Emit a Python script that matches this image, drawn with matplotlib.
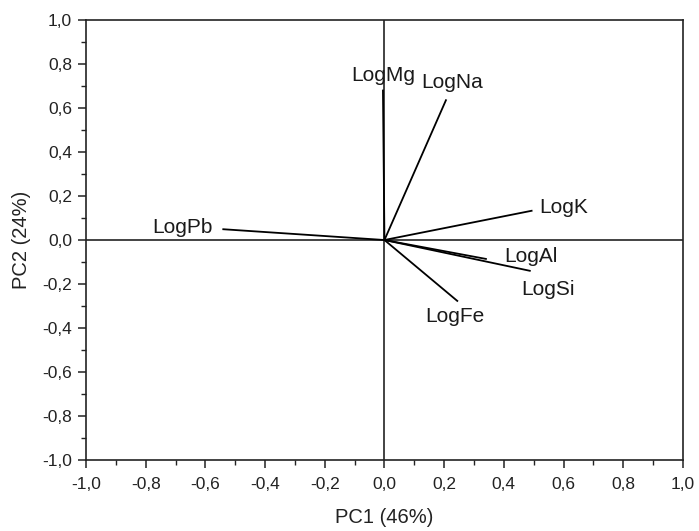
import matplotlib
matplotlib.use("Agg")
import matplotlib.pyplot as plt
from matplotlib.ticker import MultipleLocator, FuncFormatter

plt.rcParams['font.family'] = ['Liberation Sans', 'DejaVu Sans']

variables = ["LogMg", "LogNa", "LogK", "LogAl", "LogSi", "LogFe", "LogPb"]
pc1 = [-0.005, 0.206, 0.493, 0.34, 0.487, 0.244, -0.54]
pc2 = [0.68, 0.636, 0.133, -0.086, -0.14, -0.277, 0.049]
label_x = [-0.005, 0.227, 0.60, 0.49, 0.548, 0.236, -0.678]
label_y = [0.75, 0.718, 0.15, -0.077, -0.227, -0.35, 0.059]

fig = plt.figure(figsize=(6.99, 5.31), dpi=100)
ax = fig.add_axes([0.123, 0.134, 0.854, 0.828])

ax.axhline(0, color='#222222', lw=1.2, zorder=1)
ax.axvline(0, color='#222222', lw=1.2, zorder=1)

for name, x, y, lx, ly in zip(variables, pc1, pc2, label_x, label_y):
    ax.plot([0, x], [0, y], color='black', lw=1.3, zorder=2)
    ax.text(lx, ly, name, fontsize=15, ha='center', va='center', color='#1a1a1a')

ax.set_xlim(-1, 1)
ax.set_ylim(-1, 1)
ax.xaxis.set_major_locator(MultipleLocator(0.2))
ax.yaxis.set_major_locator(MultipleLocator(0.2))
ax.xaxis.set_minor_locator(MultipleLocator(0.1))
ax.yaxis.set_minor_locator(MultipleLocator(0.1))
fmt = FuncFormatter(lambda v, p: f"{v:.1f}".replace('.', ',').replace('-0,0', '0,0'))
ax.xaxis.set_major_formatter(fmt)
ax.yaxis.set_major_formatter(fmt)
ax.tick_params(which='major', direction='out', length=6, width=1.1, labelsize=12.5, colors='#222222')
ax.tick_params(which='minor', direction='out', length=3.5, width=1.0, colors='#222222')
ax.tick_params(axis='x', which='both', top=False, pad=6)
ax.tick_params(axis='y', which='both', right=False, pad=4)
for s in ax.spines.values():
    s.set_linewidth(1.2)
    s.set_color('#222222')

ax.set_xlabel("PC1 (46%)", fontsize=14.5, labelpad=12, color='#222222')
ax.set_ylabel("PC2 (24%)", fontsize=14.5, labelpad=8, color='#222222')

fig.savefig("out.png", dpi=100)
